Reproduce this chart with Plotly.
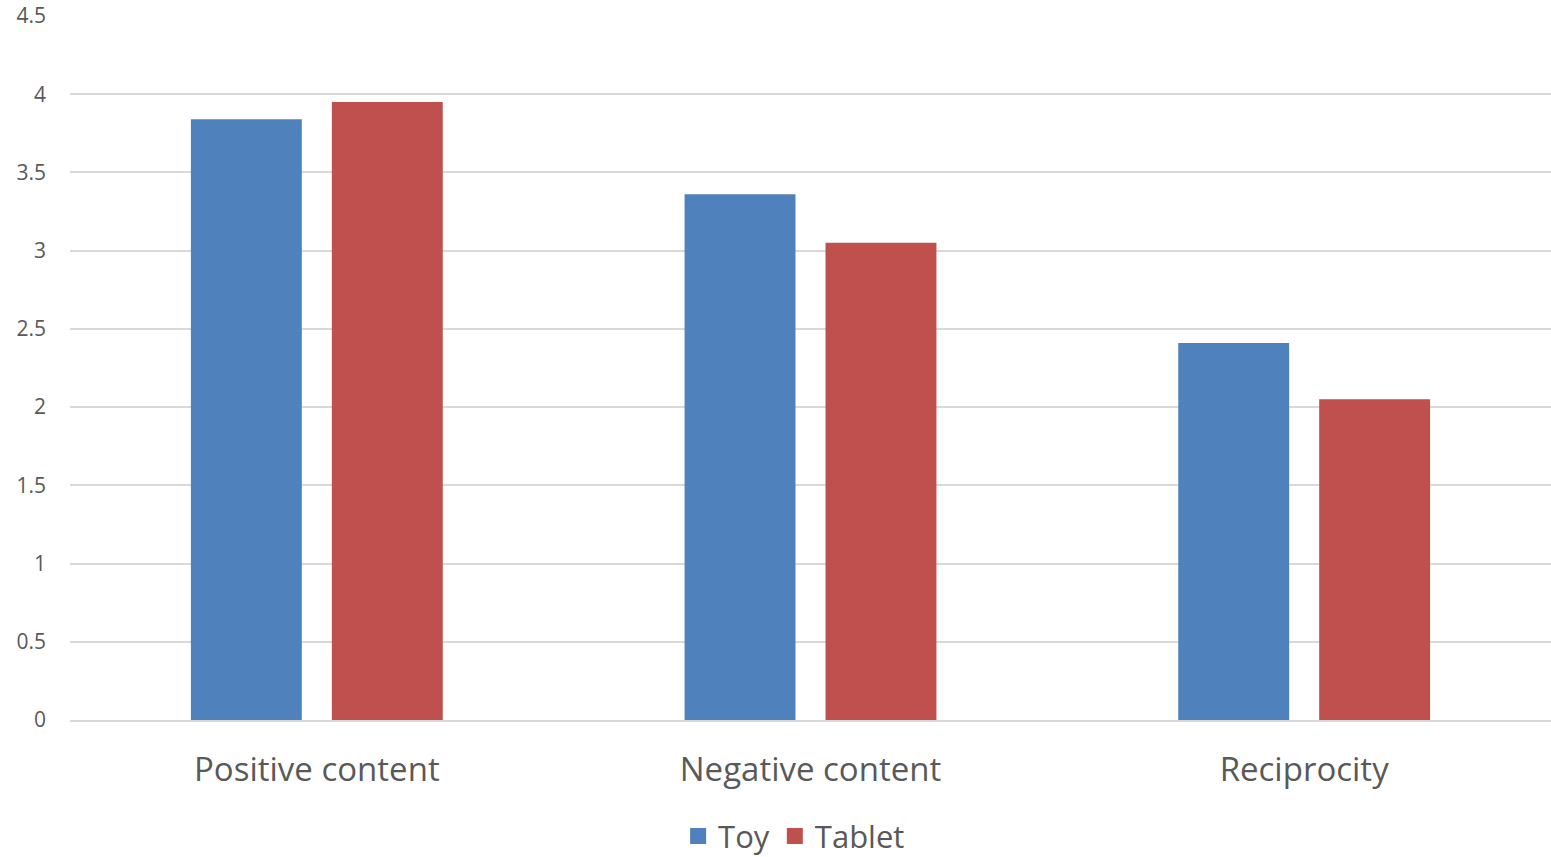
import plotly.graph_objects as go

categories = ["Positive content", "Negative content", "Reciprocity"]
toy = [3.84, 3.36, 2.41]
tablet = [3.95, 3.05, 2.05]
series_names = ["Toy", "Tablet"]
colors = ["#4F81BD", "#C0504D"]
y_ticks = [0, 0.5, 1, 1.5, 2, 2.5, 3, 3.5, 4, 4.5]

FONT = "Open Sans"
TXT = "#595959"

fig = go.Figure()
for name, vals, c in zip(series_names, [toy, tablet], colors):
    fig.add_trace(go.Bar(x=categories, y=vals, name=name, marker_color=c,
                         marker_line_width=0, showlegend=False))
for name, c in zip(series_names, colors):
    fig.add_trace(go.Scatter(x=[None], y=[None], mode="markers", name=name,
                             marker=dict(symbol="square", size=20, color=c)))

fig.update_layout(
    width=1551, height=857,
    margin=dict(l=70, r=0, t=16, b=137),
    paper_bgcolor="white", plot_bgcolor="white",
    barmode="group", bargap=0.429, bargroupgap=0.213,
    font=dict(family=FONT, color=TXT),
    legend=dict(orientation="h", xref="container", yref="container",
                x=0.512, xanchor="center", y=0.024, yanchor="middle",
                font=dict(size=31, color=TXT), itemsizing="trace",
                itemwidth=30, tracegroupgap=0),
)
fig.update_yaxes(range=[0, 4.5], tickvals=y_ticks, ticktext=[str(v) for v in y_ticks],
                 showgrid=True, gridcolor="#D9D9D9", gridwidth=1.5,
                 zeroline=False, showline=False,
                 tickfont=dict(size=21, color=TXT), ticklabelstandoff=23)
fig.update_xaxes(showline=True, linecolor="#D9D9D9", linewidth=1.5,
                 tickfont=dict(size=33, color=TXT), ticklabelstandoff=20)

fig.write_html("out.html")
